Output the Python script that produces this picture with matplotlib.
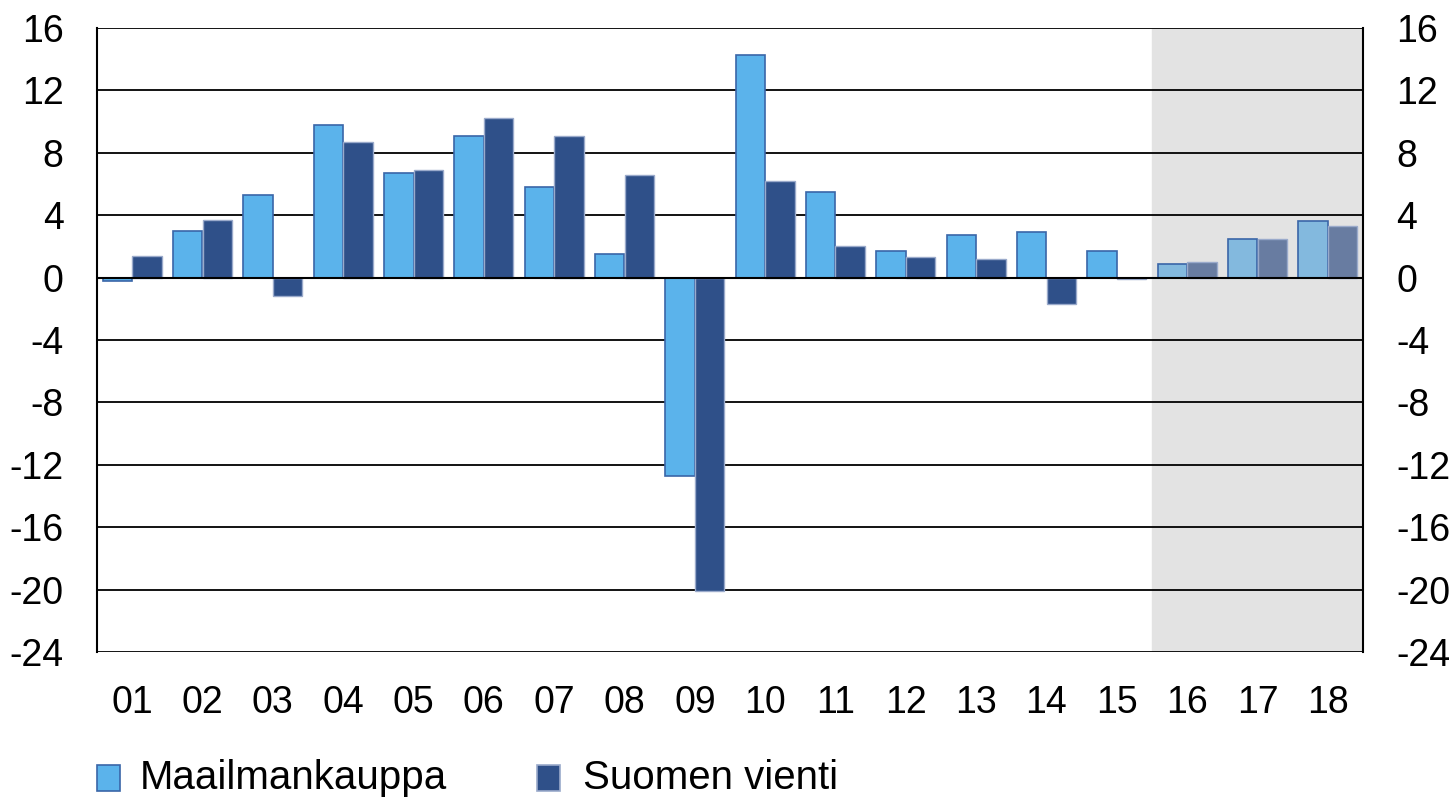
import matplotlib.pyplot as plt
import numpy as np
from matplotlib.patches import Rectangle

plt.rcParams['font.family'] = ['Liberation Sans', 'DejaVu Sans']
plt.rcParams['axes.unicode_minus'] = False

years = ["01", "02", "03", "04", "05", "06", "07", "08", "09",
         "10", "11", "12", "13", "14", "15", "16", "17", "18"]
maailmankauppa = [-0.2, 3.0, 5.3, 9.8, 6.7, 9.1, 5.8, 1.5, -12.7,
                  14.3, 5.5, 1.7, 2.7, 2.9, 1.7, 0.9, 2.5, 3.6]
suomen_vienti = [1.4, 3.7, -1.2, 8.7, 6.9, 10.2, 9.1, 6.6, -20.1,
                 6.2, 2.0, 1.3, 1.2, -1.7, -0.1, 1.0, 2.5, 3.3]
n_forecast = 3  # 16-18 ovat ennusteita

x = np.arange(len(years))
w = 0.42
n_hist = len(years) - n_forecast

light = "#5BB3EB"
dark = "#2F5089"
light_f = "#83B9DE"
dark_f = "#687CA1"
c_light = [light] * n_hist + [light_f] * n_forecast
c_dark = [dark] * n_hist + [dark_f] * n_forecast

W, H = 1454, 801
fig = plt.figure(figsize=(W / 100, H / 100), dpi=100)
ax = fig.add_axes([97 / W, 1 - 652 / H, (1363 - 97) / W, (652 - 28) / H])

ax.axvspan(n_hist - 0.5, len(years) - 0.5, color="#E3E3E3", zorder=0)
for yv in range(-24, 17, 4):
    ax.axhline(yv, color="black", lw=1.3, zorder=1)

ax.bar(x - w / 2, maailmankauppa, width=w, color=c_light,
       edgecolor="#3A66A8", linewidth=1.2, zorder=3)
ax.bar(x + w / 2, suomen_vienti, width=w, color=c_dark,
       edgecolor="#9AAACB", linewidth=1.0, zorder=3)
ax.axhline(0, color="black", lw=1.5, zorder=4)

ax.set_xlim(-0.5, len(years) - 0.5)
ax.set_ylim(-24, 16)
ax.set_yticks(range(-24, 17, 4))
ax.set_xticks(x)
ax.set_xticklabels(years)
ax.tick_params(axis="both", length=0, labelsize=27)
ax.tick_params(axis="y", pad=24, labelright=True, right=False)
ax.tick_params(axis="x", pad=24)
for s in ["top", "bottom"]:
    ax.spines[s].set_visible(False)
for s in ["left", "right"]:
    ax.spines[s].set_linewidth(1.5)

# selite kuvan alareunaan
legend_items = [("Maailmankauppa", light, "#3A66A8", 97, 140),
                ("Suomen vienti", dark, "#9AAACB", 537, 583)]
for label, fc, ec, mx, tx in legend_items:
    fig.add_artist(Rectangle((mx / W, 1 - 791 / H), 23 / W, 26 / H,
                             facecolor=fc, edgecolor=ec, lw=1.2,
                             transform=fig.transFigure))
    fig.text(tx / W, 1 - 778 / H, label, fontsize=29, va="center", ha="left")

fig.savefig("out.png", dpi=100)
